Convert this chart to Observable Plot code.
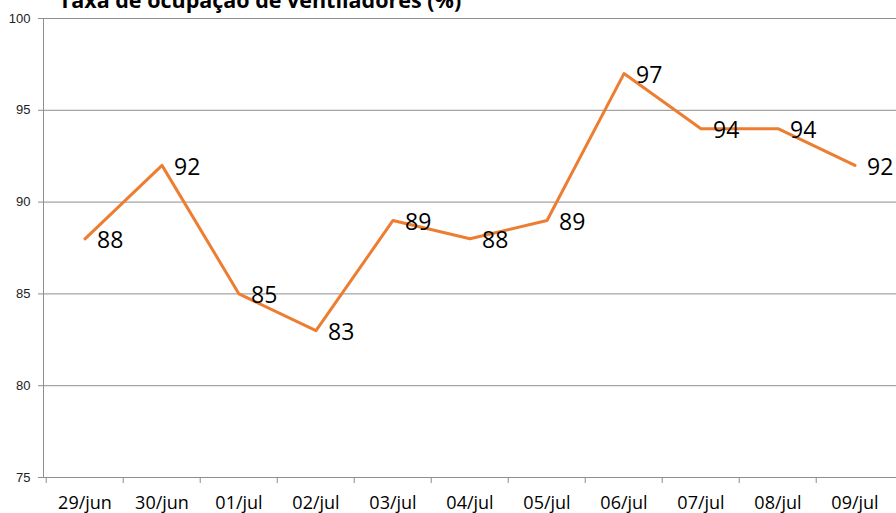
<!DOCTYPE html>
<html><head><meta charset="utf-8">
<script src="https://cdn.jsdelivr.net/npm/d3@7"></script>
<script src="https://cdn.jsdelivr.net/npm/@observablehq/plot@0.6"></script>
<style>
body{margin:0;background:#fff;overflow:hidden}
#wrap{position:relative;width:896px;height:513px;overflow:hidden}
#title{position:absolute;left:0;width:520px;text-align:center;top:-11px;font:bold 21.5px/1 "Open Sans";color:#000;white-space:nowrap;z-index:2}
</style>
</head><body>
<div id="wrap"><div id="title">Taxa de ocupação de ventiladores (%)</div><div id="chart"></div></div>
<script>
const dates = ["29/jun","30/jun","01/jul","02/jul","03/jul","04/jul","05/jul","06/jul","07/jul","08/jul","09/jul"];
const values = [88, 92, 85, 83, 89, 88, 89, 97, 94, 94, 92];
const yTicks = [75, 80, 85, 90, 95, 100];
const data = dates.map((d, i) => ({date: d, value: values[i]}));

const W = 896, ML = 43, MR = 0;
const bw = (W - ML - MR) / dates.length;
const grid = "#8e8e8e";

const plot = Plot.plot({
  width: W, height: 513,
  marginLeft: ML, marginRight: MR, marginTop: 18, marginBottom: 36,
  style: {background: "transparent", overflow: "visible"},
  x: {type: "band", domain: dates, padding: 0, label: null},
  y: {domain: [75, 100], label: null},
  marks: [
    Plot.gridY(yTicks, {stroke: grid, strokeOpacity: 1, strokeWidth: 1}),
    Plot.frame({anchor: "left", stroke: grid}),
    Plot.axisY(yTicks, {tickSize: 5, tickPadding: 8, stroke: grid, fontSize: 13, fontFamily: "Liberation Sans", fill: "#222"}),
    Plot.axisX({tickSize: 6, text: null, dx: -bw / 2, stroke: grid}),
    Plot.axisX({tickSize: 0, tickPadding: 19, fontSize: 18, fontFamily: "Open Sans", fill: "#000"}),
    Plot.line(data, {x: "date", y: "value", stroke: "#ED7D31", strokeWidth: 3}),
    Plot.text(data, {x: "date", y: "value", text: d => String(d.value), dx: 12, dy: 2, textAnchor: "start", fontSize: 23, fontFamily: "Open Sans", fill: "#000"})
  ]
});
document.getElementById("chart").appendChild(plot);
</script>
</body></html>
